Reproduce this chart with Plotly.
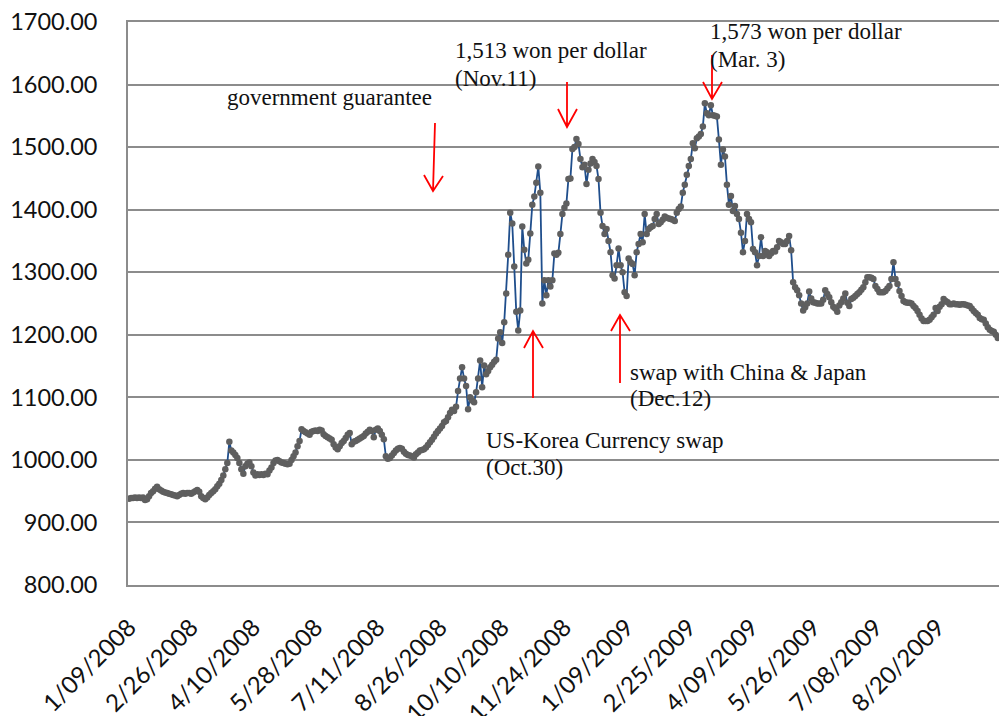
import plotly.graph_objects as go

# Won per dollar, daily trading days from 1/09/2008
rate = [
    938, 939, 939, 940, 939, 940, 939, 940, 936, 937,
    942, 947, 950, 954, 957, 953, 951, 949, 948, 947,
    946, 945, 944, 943, 942, 944, 946, 947, 946, 947,
    947, 946, 948, 950, 952, 949, 942, 939, 937, 940,
    944, 947, 950, 953, 958, 962, 968, 975, 985, 995,
    1029, 1015, 1012, 1008, 1003, 995, 985, 978, 990, 994,
    996, 990, 980, 975, 977, 976, 977, 976, 978, 977,
    983, 988, 995, 999, 1000, 998, 996, 995, 994, 993,
    994, 1000, 1006, 1012, 1022, 1030, 1049, 1046, 1044, 1042,
    1040, 1045, 1046, 1047, 1046, 1048, 1047, 1041, 1038, 1036,
    1034, 1032, 1025, 1020, 1017, 1022, 1027, 1030, 1035, 1040,
    1043, 1025, 1029, 1030, 1032, 1034, 1036, 1038, 1042, 1045,
    1048, 1046, 1036, 1048, 1050, 1046, 1040, 1033, 1006, 1002,
    1003, 1007, 1011, 1015, 1018, 1019, 1018, 1013, 1010, 1008,
    1007, 1006, 1004, 1009, 1012, 1015, 1016, 1017, 1020, 1024,
    1028, 1032, 1037, 1042, 1046, 1050, 1054, 1060, 1062, 1068,
    1075, 1080, 1078, 1085, 1110, 1130, 1148, 1130, 1118, 1081,
    1100, 1095, 1092, 1108, 1130, 1159, 1116, 1151, 1137, 1142,
    1148, 1152, 1157, 1160, 1194, 1204, 1187, 1220, 1266, 1328,
    1395, 1378, 1309, 1237, 1207, 1239, 1373, 1336, 1314, 1320,
    1362, 1408, 1421, 1443, 1469, 1427, 1250, 1287, 1263, 1287,
    1277, 1287, 1330, 1328, 1331, 1361, 1393, 1403, 1410, 1449,
    1450, 1497, 1500, 1513, 1505, 1481, 1468, 1472, 1441, 1464,
    1474, 1481, 1476, 1470, 1449, 1395, 1374, 1361, 1369, 1350,
    1332, 1295, 1290, 1311, 1338, 1311, 1300, 1268, 1262, 1322,
    1316, 1313, 1295, 1332, 1345, 1361, 1348, 1393, 1361, 1369,
    1372, 1374, 1385, 1393, 1377, 1380, 1384, 1389, 1387, 1386,
    1385, 1384, 1382, 1395, 1401, 1405, 1427, 1440, 1456, 1470,
    1481, 1506, 1498, 1514, 1517, 1521, 1533, 1570, 1554, 1551,
    1567, 1551, 1550, 1549, 1512, 1472, 1496, 1485, 1440, 1408,
    1422, 1398, 1406, 1393, 1385, 1363, 1332, 1350, 1393, 1385,
    1380, 1337, 1332, 1311, 1326, 1356, 1326, 1334, 1332, 1326,
    1330, 1334, 1333, 1340, 1350, 1348, 1345, 1345, 1350, 1358,
    1335, 1284, 1276, 1271, 1263, 1250, 1239, 1244, 1250, 1269,
    1258, 1252, 1251, 1250, 1250, 1250, 1256, 1271, 1265, 1260,
    1252, 1245, 1242, 1237, 1247, 1252, 1258, 1266, 1251, 1246,
    1257, 1259, 1262, 1265, 1268, 1272, 1276, 1284, 1292, 1292,
    1291, 1289, 1278, 1273, 1268, 1268, 1268, 1270, 1274, 1278,
    1289, 1316, 1289, 1281, 1270, 1262, 1254, 1252, 1251, 1251,
    1250, 1246, 1243, 1238, 1232, 1226, 1222, 1222, 1222, 1224,
    1228, 1232, 1243, 1238, 1245, 1249, 1257, 1254, 1252, 1249,
    1249, 1250, 1249, 1249, 1248, 1249, 1249, 1248, 1247, 1246,
    1242, 1238, 1235, 1232, 1227, 1225, 1224, 1218, 1212, 1208,
    1206, 1205, 1200, 1195,
]

tick_labels = [
    "1/09/2008", "2/26/2008", "4/10/2008", "5/28/2008", "7/11/2008",
    "8/26/2008", "10/10/2008", "11/24/2008", "1/09/2009", "2/25/2009",
    "4/09/2009", "5/26/2009", "7/08/2009", "8/20/2009",
]
label_step = 31

days = list(range(len(rate)))
tick_pos = [k * label_step for k in range(len(tick_labels))]

W, H = 999, 716
L, R, T, B = 128, 999, 22, 585  # plot area in pixels


def paper(x, y):
    return (x - L) / (R - L), (B - y) / (B - T)


fig = go.Figure()
fig.add_trace(go.Scatter(
    x=days, y=rate, mode="lines+markers",
    line=dict(color="#1f4e8c", width=1.8),
    marker=dict(color="#5f5f5f", size=6.5),
    showlegend=False,
))

serif = dict(family="Liberation Serif", size=23, color="#111111")
notes = [
    ("government guarantee", 225, 98),
    ("1,513 won per dollar", 453, 50),
    ("(Nov.11)", 453, 78),
    ("1,573 won per dollar", 708, 32),
    ("(Mar. 3)", 708, 59),
    ("swap with China &amp; Japan", 628, 372),
    ("(Dec.12)", 628, 399),
    ("US-Korea Currency swap", 484, 440),
    ("(Oct.30)", 484, 467),
]
for text, x, y in notes:
    px_, py_ = paper(x, y)
    fig.add_annotation(text=text, x=px_, y=py_, xref="paper", yref="paper",
                       xanchor="left", yanchor="middle", showarrow=False, font=serif)

# red arrows: shaft start, tip, two wing ends (pixels)
arrows = [
    ((435, 123), (433, 191), (424, 175), (443, 176)),
    ((567, 82), (567, 127), (558, 109), (577, 109)),
    ((712, 55), (712, 99), (703, 82), (722, 82)),
    ((533, 398), (533, 331), (524, 348), (543, 348)),
    ((620, 383), (620, 315), (611, 331), (630, 331)),
]
for start, tip, w1, w2 in arrows:
    s, t, a, b = paper(*start), paper(*tip), paper(*w1), paper(*w2)
    path = (f"M {s[0]},{s[1]} L {t[0]},{t[1]} "
            f"M {a[0]},{a[1]} L {t[0]},{t[1]} L {b[0]},{b[1]}")
    fig.add_shape(type="path", path=path, xref="paper", yref="paper",
                  line=dict(color="#ff0000", width=1.8))

fig.update_layout(
    width=W, height=H,
    margin=dict(l=L, r=W - R, t=T, b=H - B),
    plot_bgcolor="white", paper_bgcolor="white",
    xaxis=dict(
        range=[-0.5, len(rate) - 0.4], automargin=False,
        tickmode="array", tickvals=tick_pos, ticktext=tick_labels,
        tickangle=-45, tickfont=dict(family="Lato", size=24, color="#111111"),
        showgrid=False, ticklabeloverflow="allow",
        showline=True, mirror=True, linecolor="#8c8c8c", linewidth=1.6,
        ticks="", zeroline=False, ticklabelstandoff=17,
    ),
    yaxis=dict(
        range=[800, 1700], dtick=100, tickformat=".2f", automargin=False,
        tickfont=dict(family="Lato", size=23.5, color="#111111"),
        showgrid=True, gridcolor="#8c8c8c", gridwidth=1.6,
        ticklabeloverflow="allow",
        showline=True, linecolor="#8c8c8c", linewidth=1.6,
        ticks="", zeroline=False, ticklabelstandoff=24,
    ),
)

# drop the default page margin so the figure fills the window exactly
fig.write_html(
    "out.html",
    config={"displayModeBar": False},
    post_script="document.body.style.margin='0';document.body.style.overflow='hidden';",
)
